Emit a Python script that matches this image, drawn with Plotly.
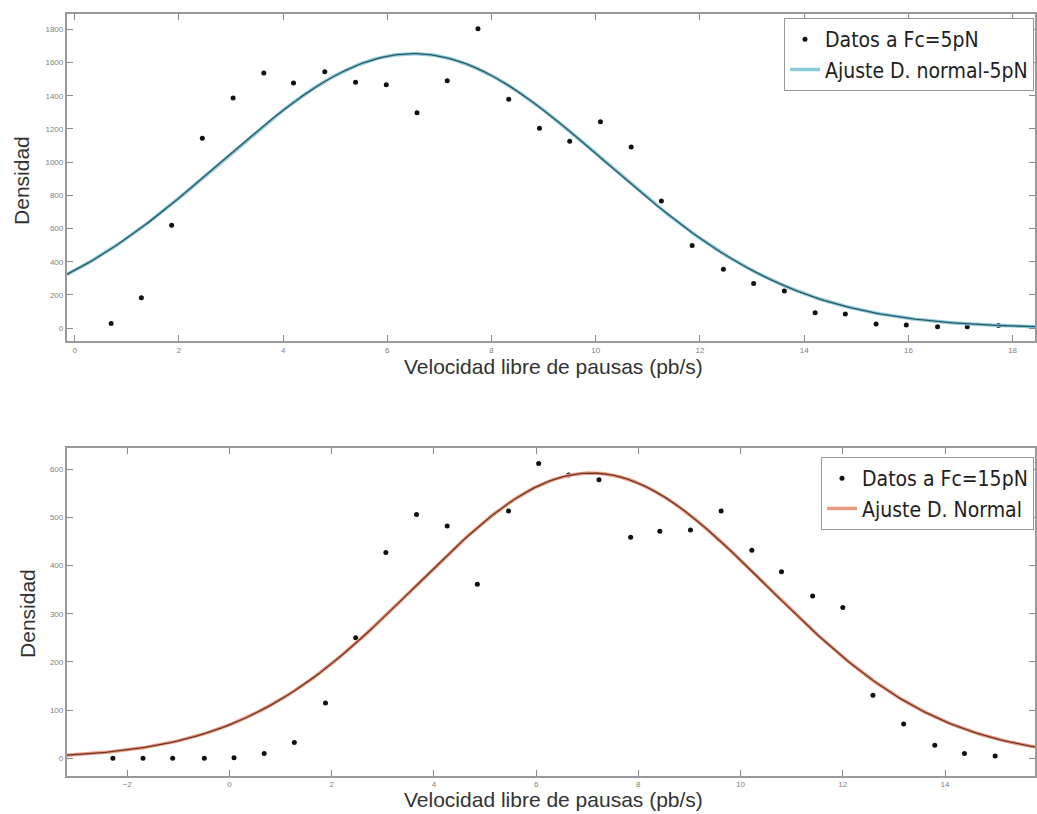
import numpy as np
import plotly.graph_objects as go

# --- Fc = 5 pN: histogram densities of pause-free velocity ---
vel_5pN = [0.70, 1.28, 1.86, 2.45, 3.04, 3.63, 4.20, 4.80, 5.39, 5.98,
           6.57, 7.15, 7.74, 8.33, 8.92, 9.50, 10.09, 10.68, 11.26, 11.85,
           12.45, 13.03, 13.62, 14.21, 14.79, 15.38, 15.96, 16.56, 17.13, 17.73]
dens_5pN = [28, 182, 620, 1144, 1387, 1537, 1477, 1545, 1481, 1467,
            1298, 1491, 1804, 1379, 1204, 1126, 1244, 1092, 766, 498,
            355, 269, 223, 92, 84, 24, 18, 8, 8, 16]
# normal fit parameters (peak height, mean, std)
fit_5pN = dict(peak=1654, mean=6.5, std=3.68)

# --- Fc = 15 pN ---
vel_15pN = [-2.28, -1.69, -1.11, -0.49, 0.09, 0.68, 1.27, 1.88, 2.47, 3.06,
            3.66, 4.26, 4.85, 5.46, 6.05, 6.64, 7.23, 7.85, 8.42, 9.02,
            9.62, 10.22, 10.80, 11.41, 12.00, 12.59, 13.19, 13.80, 14.38, 14.98]
dens_15pN = [0, 0, 0, 0, 1, 10, 33, 115, 250, 427,
             506, 482, 361, 513, 612, 588, 578, 459, 471, 474,
             513, 432, 387, 337, 313, 131, 71, 27, 10, 5]
fit_15pN = dict(peak=592, mean=7.08, std=3.42)

x_title = "Velocidad libre de pausas (pb/s)"
y_title = "Densidad"


def normal_curve(p, lo, hi):
    xs = np.linspace(lo, hi, 300)
    ys = p["peak"] * np.exp(-((xs - p["mean"]) ** 2) / (2 * p["std"] ** 2))
    return xs, ys


fig = go.Figure()

top_xr = [-0.15, 18.43]
bot_xr = [-3.18, 15.76]

# top panel
xs, ys = normal_curve(fit_5pN, top_xr[0], top_xr[1])
fig.add_trace(go.Scatter(x=vel_5pN, y=dens_5pN, mode="markers",
                         marker=dict(color="#111111", size=5),
                         name="Datos a Fc=5pN", legend="legend",
                         xaxis="x", yaxis="y"))
fig.add_trace(go.Scatter(x=xs, y=ys, mode="lines",
                         line=dict(color="#8acbd8", width=3.5),
                         name="Ajuste D. normal-5pN", legend="legend",
                         xaxis="x", yaxis="y"))
fig.add_trace(go.Scatter(x=xs, y=ys, mode="lines",
                         line=dict(color="#2f5566", width=1.3),
                         showlegend=False, hoverinfo="skip",
                         xaxis="x", yaxis="y"))

# bottom panel
xs2, ys2 = normal_curve(fit_15pN, bot_xr[0], bot_xr[1])
fig.add_trace(go.Scatter(x=vel_15pN, y=dens_15pN, mode="markers",
                         marker=dict(color="#111111", size=5),
                         name="Datos a Fc=15pN", legend="legend2",
                         xaxis="x2", yaxis="y2"))
fig.add_trace(go.Scatter(x=xs2, y=ys2, mode="lines",
                         line=dict(color="#eb9c80", width=3.5),
                         name="Ajuste D. Normal", legend="legend2",
                         xaxis="x2", yaxis="y2"))
fig.add_trace(go.Scatter(x=xs2, y=ys2, mode="lines",
                         line=dict(color="#6e3528", width=1.3),
                         showlegend=False, hoverinfo="skip",
                         xaxis="x2", yaxis="y2"))

axis_style = dict(showgrid=False, zeroline=False, showline=True,
                  linecolor="#9a9a9a", linewidth=2, mirror="ticks",
                  ticks="inside", ticklen=6, tickwidth=1, tickcolor="#8a8a8a",
                  tickfont=dict(family="Liberation Sans, Arial", size=8,
                                color="#808080"))

W, H = 1037, 814
legend_font = dict(family="DejaVu Sans Condensed, DejaVu Sans", size=21,
                   color="#1e1e1e")
fig.update_layout(
    width=W, height=H,
    margin=dict(l=0, r=0, t=0, b=0),
    paper_bgcolor="white", plot_bgcolor="white",
    showlegend=True,
    xaxis=dict(domain=[67 / W, 1.0], range=top_xr, tickvals=list(range(0, 19, 2)),
               anchor="y", **axis_style),
    yaxis=dict(domain=[1 - 341 / H, 1 - 13.5 / H], range=[-78, 1896],
               tickvals=list(range(0, 1801, 200)), anchor="x", **axis_style),
    xaxis2=dict(domain=[67 / W, 1.0], range=bot_xr, tickvals=list(range(-2, 15, 2)),
                anchor="y2", **axis_style),
    yaxis2=dict(domain=[1 - 775.5 / H, 1 - 447.5 / H], range=[-35.7, 645],
                tickvals=list(range(0, 601, 100)), anchor="x2", **axis_style),
    legend=dict(x=1 - 1 / W, y=1 - 18 / H, xanchor="right", yanchor="top",
                bgcolor="white", bordercolor="#9a9a9a", borderwidth=1,
                font=legend_font, tracegroupgap=0, itemwidth=30),
    legend2=dict(x=1 - 1 / W, y=1 - 457 / H, xanchor="right", yanchor="top",
                 bgcolor="white", bordercolor="#9a9a9a", borderwidth=1,
                 font=legend_font, tracegroupgap=0, itemwidth=30),
)

title_font = dict(family="Liberation Sans, Arial", size=21, color="#333333")
annotations = [
    dict(text=x_title, x=555 / W, y=1 - 366 / H),
    dict(text=x_title, x=555 / W, y=1 - 799 / H),
    dict(text=y_title, x=22 / W, y=1 - 180 / H, textangle=-90),
    dict(text=y_title, x=27 / W, y=1 - 613 / H, textangle=-90),
]
for a in annotations:
    fig.add_annotation(xref="paper", yref="paper", showarrow=False,
                       xanchor="center", yanchor="middle", font=title_font, **a)

fig.write_html("out.html")
